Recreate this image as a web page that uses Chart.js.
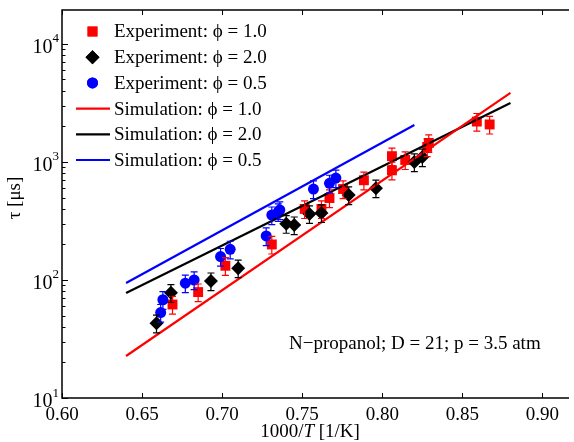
<!DOCTYPE html>
<html>
<head>
<meta charset="utf-8">
<script src="https://cdn.jsdelivr.net/npm/chart.js@4/dist/chart.umd.min.js"></script>
<style>
html,body{margin:0;padding:0;background:#fff;}
canvas{display:block;}
</style>
</head>
<body>
<canvas id="c" width="574" height="442"></canvas>
<script>
// ---------- data ----------
const xTickValues = [0.60, 0.65, 0.70, 0.75, 0.80, 0.85, 0.90];
const yDecadeValues = [10, 100, 1000, 10000];
const yDecadeExponents = ['1', '2', '3', '4'];

const seriesLabels = [
  'Experiment: \u03D5 = 1.0',
  'Experiment: \u03D5 = 2.0',
  'Experiment: \u03D5 = 0.5',
  'Simulation: \u03D5 = 1.0',
  'Simulation: \u03D5 = 2.0',
  'Simulation: \u03D5 = 0.5'
];

// Experiment phi = 1.0 (red squares)
const exp10X   = [0.669, 0.685, 0.702, 0.731, 0.7515, 0.762, 0.767, 0.7755, 0.7885, 0.806, 0.806, 0.8143, 0.828, 0.829, 0.859, 0.867];
const exp10Tau = [62,    79,    132,   200,   400,    400,   495,   590,    700,    850,   1120,  1040,   1340,  1450,  2200,  2080];

// Experiment phi = 2.0 (black diamonds)
const exp20X   = [0.659, 0.668, 0.693, 0.710, 0.740, 0.745, 0.7545, 0.762, 0.779, 0.796, 0.820, 0.825];
const exp20Tau = [43,    78,    98,    126,   300,   292,   363,    370,   525,   600,   1000,  1100];

// Experiment phi = 0.5 (blue circles)
const exp05X   = [0.6616, 0.663, 0.677, 0.6825, 0.699, 0.705, 0.7275, 0.731, 0.735, 0.736, 0.757, 0.767, 0.771];
const exp05Tau = [53,     68,    94,    100,    158,   182,   236,    355,   378,   392,   590,   660,   730];

// Simulations
const sim10X = [0.64, 0.88];  const sim10Tau = [22.7, 3850];
const sim20X = [0.64, 0.88];  const sim20Tau = [77.6, 3160];
const sim05X = [0.64, 0.82];  const sim05Tau = [94.4, 2060];

// relative experimental uncertainty
const expRelError = 0.17;

const xMin = 0.60, xMax = 0.9153;
const yMin = 10, yMax = 19400;

const annotationText = 'N\u2212propanol; D = 21; p = 3.5 atm';

// ---------- helpers ----------
const FONT = '"Liberation Serif", "Times New Roman", serif';
const FS = 19;
const pts = (xs, ys) => xs.map((x, i) => ({ x: x, y: ys[i] }));

const RED = '#ff0000', BLACK = '#000000', BLUE = '#0000ff';

const datasets = [
  { type: 'scatter', label: seriesLabels[0], data: pts(exp10X, exp10Tau), pointStyle: 'rect', pointRadius: 7, backgroundColor: RED, borderColor: RED, borderWidth: 0, errorBars: true, order: 3 },
  { type: 'scatter', label: seriesLabels[1], data: pts(exp20X, exp20Tau), pointStyle: 'rectRot', pointRadius: 7, backgroundColor: BLACK, borderColor: BLACK, borderWidth: 0, errorBars: true, order: 2 },
  { type: 'scatter', label: seriesLabels[2], data: pts(exp05X, exp05Tau), pointStyle: 'circle', pointRadius: 5.5, backgroundColor: BLUE, borderColor: BLUE, borderWidth: 0, errorBars: true, order: 1 },
  { type: 'line', label: seriesLabels[3], data: pts(sim10X, sim10Tau), borderColor: RED, borderWidth: 2.2, pointRadius: 0, fill: false, order: 0 },
  { type: 'line', label: seriesLabels[4], data: pts(sim20X, sim20Tau), borderColor: BLACK, borderWidth: 2.2, pointRadius: 0, fill: false, order: 0 },
  { type: 'line', label: seriesLabels[5], data: pts(sim05X, sim05Tau), borderColor: BLUE, borderWidth: 2.2, pointRadius: 0, fill: false, order: 0 }
];

// ---------- plugins ----------
const errorBarPlugin = {
  id: 'errorBars',
  afterDatasetsDraw(chart) {
    const ctx = chart.ctx, xs = chart.scales.x, ys = chart.scales.y;
    ctx.save();
    chart.data.datasets.forEach((ds) => {
      if (!ds.errorBars) return;
      ctx.strokeStyle = ds.borderColor;
      ctx.lineWidth = 1.2;
      ds.data.forEach(p => {
        const px = xs.getPixelForValue(p.x);
        const pTop = ys.getPixelForValue(p.y * (1 + expRelError));
        const pBot = ys.getPixelForValue(p.y * (1 - expRelError));
        ctx.beginPath();
        ctx.moveTo(px, pTop); ctx.lineTo(px, pBot);
        ctx.moveTo(px - 3.5, pTop); ctx.lineTo(px + 3.5, pTop);
        ctx.moveTo(px - 3.5, pBot); ctx.lineTo(px + 3.5, pBot);
        ctx.stroke();
      });
    });
    ctx.restore();
  }
};

const decorPlugin = {
  id: 'decor',
  afterDraw(chart) {
    const ctx = chart.ctx, ca = chart.chartArea, xs = chart.scales.x, ys = chart.scales.y;
    ctx.save();
    // frame (left, bottom, top)
    ctx.strokeStyle = '#000';
    ctx.lineWidth = 1.5;
    ctx.beginPath();
    ctx.moveTo(ca.right + 2, ca.top); ctx.lineTo(ca.left, ca.top);
    ctx.lineTo(ca.left, ca.bottom); ctx.lineTo(ca.right + 2, ca.bottom);
    ctx.stroke();

    // inward ticks
    ctx.lineWidth = 1;
    ctx.beginPath();
    xTickValues.forEach(v => {
      const px = Math.round(xs.getPixelForValue(v)) + 0.5;
      ctx.moveTo(px, ca.bottom); ctx.lineTo(px, ca.bottom - 5);
      ctx.moveTo(px, ca.top); ctx.lineTo(px, ca.top + 5);
    });
    yDecadeValues.forEach(d => {
      for (let m = 1; m <= 9; m++) {
        const v = d * m;
        if (v < yMin || v > yMax) continue;
        const py = Math.round(ys.getPixelForValue(v)) + 0.5;
        const len = m === 1 ? 6 : 3.5;
        ctx.moveTo(ca.left, py); ctx.lineTo(ca.left + len, py);
      }
    });
    ctx.stroke();

    // y tick labels 10^n
    ctx.fillStyle = '#000';
    ctx.textBaseline = 'alphabetic';
    yDecadeValues.forEach((d, i) => {
      const py = ys.getPixelForValue(d);
      ctx.font = '13px ' + FONT;
      const ew = ctx.measureText(yDecadeExponents[i]).width;
      ctx.font = '20px ' + FONT;
      const bw = ctx.measureText('10').width;
      const right = ca.left - 3;
      ctx.textAlign = 'left';
      ctx.fillText('10', right - ew - bw, py + 9);
      ctx.font = '13px ' + FONT;
      ctx.fillText(yDecadeExponents[i], right - ew, py - 1.5);
    });

    // y axis title
    ctx.save();
    ctx.translate(15, 198);
    ctx.rotate(-Math.PI / 2);
    ctx.font = FS + 'px ' + FONT;
    ctx.textAlign = 'center';
    ctx.textBaseline = 'middle';
    ctx.fillText('\u03C4 [\u03BCs]', 0, 0);
    ctx.restore();

    // x axis title with italic T
    const p1 = '1000/', p2 = 'T', p3 = ' [1/K]';
    ctx.font = FS + 'px ' + FONT;
    const w1 = ctx.measureText(p1).width, w3 = ctx.measureText(p3).width;
    ctx.font = 'italic ' + FS + 'px ' + FONT;
    const w2 = ctx.measureText(p2).width;
    const total = w1 + w2 + w3;
    let tx = 310 - total / 2;
    const ty = 437;
    ctx.textAlign = 'left';
    ctx.textBaseline = 'alphabetic';
    ctx.font = FS + 'px ' + FONT; ctx.fillText(p1, tx, ty); tx += w1;
    ctx.font = 'italic ' + FS + 'px ' + FONT; ctx.fillText(p2, tx, ty); tx += w2;
    ctx.font = FS + 'px ' + FONT; ctx.fillText(p3, tx, ty);

    // annotation
    ctx.font = FS + 'px ' + FONT;
    ctx.fillText(annotationText, 289, 349);

    // legend
    const rowY0 = 31.5, rowDy = 25.7;
    chart.data.datasets.forEach((ds, i) => {
      const cy = rowY0 + i * rowDy;
      const cx = 92.5;
      ctx.fillStyle = ds.type === 'line' ? ds.borderColor : ds.backgroundColor;
      ctx.strokeStyle = ds.borderColor;
      if (ds.type === 'line') {
        ctx.lineWidth = 2.2;
        ctx.beginPath(); ctx.moveTo(76, cy); ctx.lineTo(110, cy); ctx.stroke();
      } else {
        Chart.helpers.drawPoint(ctx, { pointStyle: ds.pointStyle, radius: ds.pointRadius, borderWidth: 0, rotation: 0 }, cx, cy);
        ctx.fill();
      }
      ctx.fillStyle = '#000';
      ctx.font = FS + 'px ' + FONT;
      ctx.textAlign = 'left';
      ctx.textBaseline = 'middle';
      ctx.fillText(ds.label, 114, cy + 1);
    });
    ctx.restore();
  }
};

new Chart(document.getElementById('c'), {
  data: { datasets: datasets },
  options: {
    responsive: false,
    animation: false,
    devicePixelRatio: 1,
    layout: { padding: { top: 10, left: 0, right: 0, bottom: 0 } },
    plugins: { legend: { display: false }, tooltip: { enabled: false } },
    scales: {
      x: {
        type: 'linear',
        min: xMin, max: xMax,
        grid: { display: false, drawTicks: false },
        border: { display: false },
        ticks: {
          stepSize: 0.05,
          includeBounds: false,
          padding: 6,
          color: '#000',
          font: { family: FONT, size: FS },
          maxRotation: 0,
          callback: v => Number(v).toFixed(2)
        },
        afterFit: s => { s.height = 44; }
      },
      y: {
        type: 'logarithmic',
        min: yMin, max: yMax,
        grid: { display: false, drawTicks: false },
        border: { display: false },
        ticks: { display: false },
        afterFit: s => { s.width = 62; }
      }
    }
  },
  plugins: [errorBarPlugin, decorPlugin]
});
</script>
</body>
</html>
